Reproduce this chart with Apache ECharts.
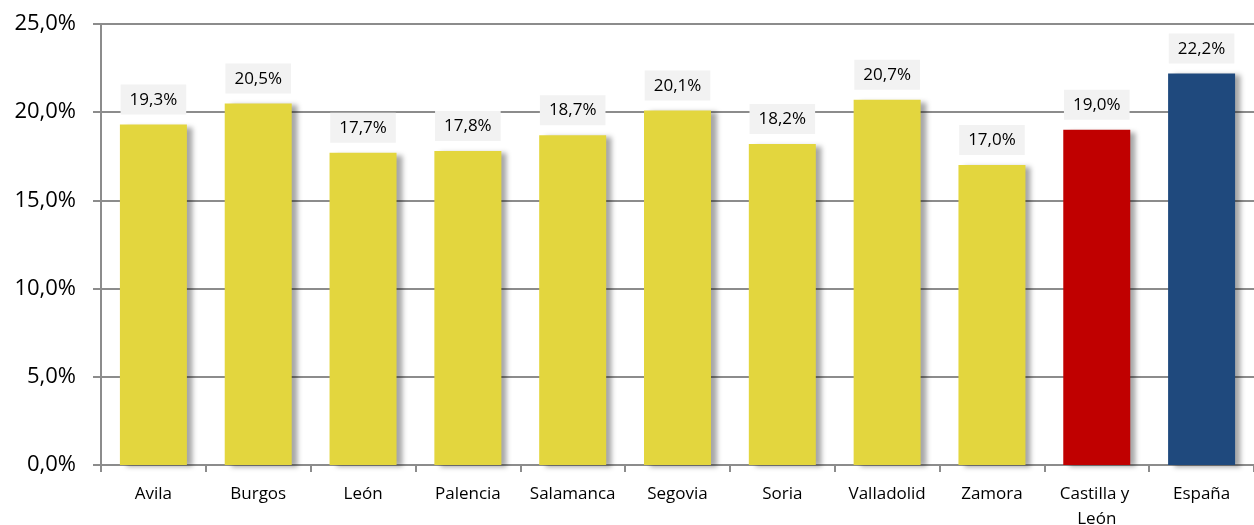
<!DOCTYPE html>
<html>
<head>
<meta charset="utf-8">
<style>
  html, body { margin: 0; padding: 0; background: #fff; }
  #chart { width: 1254px; height: 525px; }
</style>
<script src="https://cdn.jsdelivr.net/npm/echarts@6/dist/echarts.min.js"></script>
</head>
<body>
<div id="chart"></div>
<script>
// datos del gráfico
var categories = ['Avila', 'Burgos', 'León', 'Palencia', 'Salamanca', 'Segovia', 'Soria', 'Valladolid', 'Zamora', 'Castilla y León', 'España'];
var values = [19.3, 20.5, 17.7, 17.8, 18.7, 20.1, 18.2, 20.7, 17.0, 19.0, 22.2];
var barColors = ['#e3d63e', '#e3d63e', '#e3d63e', '#e3d63e', '#e3d63e', '#e3d63e', '#e3d63e', '#e3d63e', '#e3d63e', '#c00000', '#1f497d'];
var yTicks = [0, 5, 10, 15, 20, 25];

var fontFam = 'Open Sans';
var pct = function (v) { return v.toFixed(1).replace('.', ',') + '%'; };

var chart = echarts.init(document.getElementById('chart'));
var option = {
  animation: false,
  grid: { left: 101, right: 0, top: 24, bottom: 60, containLabel: false, outerBoundsMode: 'none' },
  xAxis: {
    type: 'category',
    data: categories,
    axisLine: { lineStyle: { color: '#8c8c8c', width: 2 } },
    axisTick: { show: true, length: 7, lineStyle: { color: '#8c8c8c', width: 2 } },
    axisLabel: {
      interval: 0, color: '#000', fontFamily: fontFam, fontSize: 17,
      margin: 17, width: 100, overflow: 'break', lineHeight: 25
    }
  },
  yAxis: {
    type: 'value',
    min: yTicks[0], max: yTicks[yTicks.length - 1], interval: 5,
    axisLine: { show: true, lineStyle: { color: '#8c8c8c', width: 2 } },
    axisTick: { show: true, length: 8, lineStyle: { color: '#8c8c8c', width: 2 } },
    splitLine: { lineStyle: { color: '#8c8c8c', width: 2 } },
    axisLabel: {
      color: '#000', fontFamily: fontFam, fontSize: 22, margin: 25,
      formatter: function (v) { return pct(v); }
    }
  },
  series: [{
    type: 'bar',
    barWidth: 67,
    data: values.map(function (v, i) {
      return { value: v, itemStyle: { color: barColors[i] } };
    }),
    itemStyle: {
      shadowColor: 'rgba(0,0,0,0.35)',
      shadowBlur: 5,
      shadowOffsetX: 6,
      shadowOffsetY: 2
    },
    label: {
      show: true, position: 'top', distance: 10,
      color: '#000', fontFamily: fontFam, fontSize: 17,
      backgroundColor: '#f2f2f2',
      padding: [7, 9, 6, 9],
      formatter: function (p) { return pct(p.value); }
    }
  }]
};
chart.setOption(option);
</script>
</body>
</html>
